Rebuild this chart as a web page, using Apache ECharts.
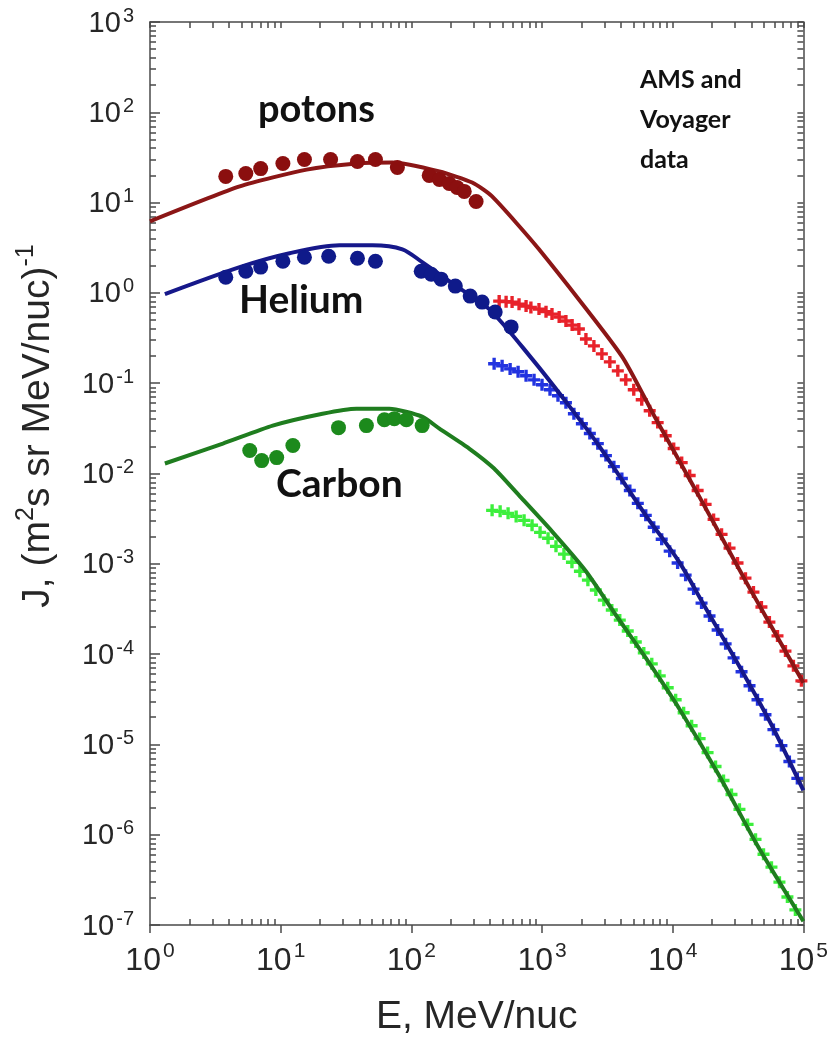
<!DOCTYPE html>
<html>
<head>
<meta charset="utf-8">
<script src="https://cdn.jsdelivr.net/npm/echarts@6/dist/echarts.min.js"></script>
<style>
html,body{margin:0;padding:0;background:#fff;}
#chart{width:831px;height:1042px;}
</style>
</head>
<body>
<div id="chart"></div>
<script>
// ---------- data (E in MeV/nuc, J in (m^2 s sr MeV/nuc)^-1) ----------
const protonModelE = [1.0, 4.86, 15.8, 38.0, 71.6, 164, 292, 415, 948, 4075, 7413, 15790, 38020, 100000];
const protonModelJ = [6.2, 15.1, 23.2, 27.1, 27.8, 22.1, 16.7, 11.7, 3.04, 0.200, 0.0405, 5.72e-3, 5.66e-4, 4.81e-5];

const heliumModelE = [1.30, 4.86, 11.7, 28.2, 50.4, 85.4, 121, 221, 394, 839, 1524, 2723, 6223, 11110, 17860, 31910, 57000, 100000];
const heliumModelJ = [0.97, 1.93, 2.75, 3.37, 3.37, 3.04, 2.19, 1.19, 0.662, 0.186, 0.0623, 0.0204, 3.44e-3, 1.07e-3, 3.24e-4, 7.6e-5, 1.65e-5, 3.09e-6];

const carbonModelE = [1.30, 3.61, 8.69, 20.9, 38.0, 67.9, 121, 164, 277, 430, 667, 1192, 2168, 3673, 6223, 11110, 22440, 45320, 100000];
const carbonModelJ = [0.0129, 0.0214, 0.0339, 0.0459, 0.0522, 0.0522, 0.0426, 0.0314, 0.0189, 0.01135, 5.72e-3, 2.29e-3, 8.28e-4, 2.71e-4, 9.08e-5, 2.55e-5, 4.64e-6, 7.26e-7, 1.1e-7];

// Voyager-type low-energy points (circles)
const protonDotE = [3.80, 5.41, 7.03, 10.4, 15.2, 24.1, 38.7, 53.1, 78.2, 137, 164, 195, 224, 254, 313];
const protonDotJ = [19.5, 21.0, 23.8, 27.1, 30.0, 30.0, 28.5, 30.0, 24.5, 20.0, 18.0, 16.3, 14.7, 13.3, 10.3];

const heliumDotE = [3.80, 5.41, 7.03, 10.4, 15.2, 23.3, 38.7, 53.1, 119, 142, 169, 217, 282, 348, 438, 580];
const heliumDotJ = [1.49, 1.74, 1.93, 2.24, 2.48, 2.55, 2.42, 2.24, 1.74, 1.61, 1.42, 1.19, 0.922, 0.791, 0.614, 0.42];

const carbonDotE = [5.80, 7.16, 9.32, 12.4, 27.7, 45.3, 62.2, 74.1, 91.6, 121];
const carbonDotJ = [0.0180, 0.0139, 0.0150, 0.0204, 0.0322, 0.0339, 0.0394, 0.0405, 0.0394, 0.0339];

// AMS-type high-energy points (crosses)
const protonAmsE = [470, 531, 590, 667, 755, 822, 948, 1073, 1192, 1353, 1524, 1700, 1915,
  2168, 2495, 2871, 3304, 3802, 4375, 5036, 5795, 6668, 7674, 8843, 10180, 11720, 13490, 15520,
  17860, 20560, 23660, 27230, 31340, 36060, 41500, 47760, 54960, 63390, 72940, 83950, 96600];
const protonAmsJ = [0.811, 0.80, 0.791, 0.75, 0.715, 0.69, 0.662, 0.62, 0.583, 0.54, 0.489, 0.44, 0.398,
  0.309, 0.259, 0.211, 0.172, 0.137, 0.109, 0.0846, 0.0656, 0.0496, 0.0366, 0.0262, 0.0189, 0.0132, 0.0095, 6.49e-3,
  4.55e-3, 3.1e-3, 2.12e-3, 1.49e-3, 1.02e-3, 6.93e-4, 4.86e-4, 3.32e-4, 2.26e-4, 1.59e-4, 1.08e-4, 7.41e-5, 5.06e-5];

const heliumAmsE = [430, 495, 570, 656, 755, 869, 1000, 1151, 1325, 1524, 1754, 2019, 2323, 2673, 3083, 3548,
  4083, 4699, 5408, 6223, 7161, 8241, 9484, 10910, 12560, 14450, 16630, 19140, 22080, 25410, 29240,
  33650, 38730, 44570, 51290, 59020, 67920, 78160, 89950];
const heliumAmsJ = [0.164, 0.156, 0.144, 0.134, 0.121, 0.109, 0.0960, 0.0846, 0.0726, 0.0608, 0.0459, 0.0356, 0.0277, 0.0214, 0.0158, 0.0119,
  8.81e-3, 6.49e-3, 4.67e-3, 3.44e-3, 2.54e-3, 1.87e-3, 1.38e-3, 1.02e-3, 7.48e-4, 5.25e-4, 3.67e-4, 2.64e-4, 1.85e-4, 1.30e-4, 9.08e-5,
  6.37e-5, 4.46e-5, 3.12e-5, 2.13e-5, 1.46e-5, 9.70e-6, 6.46e-6, 4.20e-6];

const carbonAmsE = [415, 478, 550, 634, 729, 839, 966, 1112, 1279, 1472, 1694, 1950, 2244, 2582, 2972, 3420,
  3936, 4530, 5220, 6010, 6918, 7962, 9162, 10540, 12130, 13960, 16070, 18490, 21280, 24490, 28180,
  32430, 37410, 43050, 49550, 57000, 65610, 75510, 86900];
const carbonAmsJ = [3.91e-3, 3.81e-3, 3.62e-3, 3.35e-3, 3.03e-3, 2.67e-3, 2.23e-3, 1.92e-3, 1.56e-3, 1.28e-3, 1.04e-3, 8.28e-4, 6.59e-4, 5.12e-4, 3.96e-4, 3.08e-4,
  2.38e-4, 1.80e-4, 1.36e-4, 1.03e-4, 7.80e-5, 5.74e-5, 4.24e-5, 3.12e-5, 2.24e-5, 1.61e-5, 1.16e-5, 8.11e-6, 5.69e-6, 3.98e-6, 2.79e-6,
  1.91e-6, 1.30e-6, 8.89e-7, 6.08e-7, 4.37e-7, 2.98e-7, 2.04e-7, 1.47e-7];

// axis ticks
const xMajorTicks = [1, 10, 100, 1000, 10000, 100000];
const yMajorTicks = [1e-7, 1e-6, 1e-5, 1e-4, 1e-3, 1e-2, 1e-1, 1, 10, 100, 1000];
const minorMultiples = [2, 3, 4, 5, 6, 7, 8, 9];

// ---------- helpers ----------
function pairs(xs, ys) { return xs.map((x, i) => [x, ys[i]]); }
function minorTicks(major) {
  const out = [];
  for (let i = 0; i < major.length - 1; i++) {
    minorMultiples.forEach(m => out.push(+(major[i] * m).toPrecision(6)));
  }
  return out;
}
const xMinorTicks = minorTicks(xMajorTicks);
const yMinorTicks = minorTicks(yMajorTicks);
const xAllTicks = xMajorTicks.concat(xMinorTicks);
const yAllTicks = yMajorTicks.concat(yMinorTicks);

const FONT = '"Liberation Sans", Arial, sans-serif';
const AXIS_COLOR = '#4a4a4a';
const LABEL_COLOR = '#262626';
const richTickY = {
  b: { fontSize: 29, fontFamily: FONT, color: LABEL_COLOR, lineHeight: 32, verticalAlign: 'bottom' },
  s: { fontSize: 20, fontFamily: FONT, color: LABEL_COLOR, lineHeight: 32, verticalAlign: 'top', padding: [0, 0, 0, 2] }
};
const richTickX = {
  b: { fontSize: 32, fontFamily: FONT, color: LABEL_COLOR, lineHeight: 36, verticalAlign: 'bottom' },
  s: { fontSize: 21, fontFamily: FONT, color: LABEL_COLOR, lineHeight: 36, verticalAlign: 'top', padding: [0, 0, 0, 2] }
};
function powLabel(v) {
  const e = Math.round(Math.log10(v));
  return '{b|10}{s|' + e + '}';
}
const PLUS = 'path://M3.6,0H6.4V3.6H10V6.4H6.4V10H3.6V6.4H0V3.6H3.6Z';

const chart = echarts.init(document.getElementById('chart'), null, { renderer: 'canvas' });

const xBase = { type: 'log', logBase: 10, min: 1, max: 100000, splitLine: { show: false } };
const yBase = { type: 'log', logBase: 10, min: 1e-7, max: 1000, splitLine: { show: false } };
const lineStyleAxis = { color: AXIS_COLOR, width: 1.5 };

const option = {
  animation: false,
  backgroundColor: '#ffffff',
  grid: { left: 150, right: 26, top: 22, bottom: 114, containLabel: false },
  xAxis: [
    Object.assign({}, xBase, {
      position: 'bottom',
      axisLine: { show: true, lineStyle: lineStyleAxis },
      axisTick: { show: true, inside: false, length: 8, customValues: xMajorTicks, lineStyle: lineStyleAxis },
      axisLabel: { show: true, customValues: xMajorTicks, formatter: powLabel, rich: richTickX, margin: 16 },
      name: 'E, MeV/nuc', nameLocation: 'middle', nameGap: 73,
      nameTextStyle: { fontSize: 39, fontFamily: FONT, color: LABEL_COLOR }
    }),
    Object.assign({}, xBase, {
      position: 'bottom',
      axisLine: { show: false },
      axisTick: { show: true, inside: true, length: 6, customValues: xMinorTicks, lineStyle: lineStyleAxis },
      axisLabel: { show: false }
    }),
    Object.assign({}, xBase, {
      position: 'top',
      axisLine: { show: true, lineStyle: lineStyleAxis },
      axisTick: { show: true, inside: true, length: 6, customValues: xAllTicks, lineStyle: lineStyleAxis },
      axisLabel: { show: false }
    })
  ],
  yAxis: [
    Object.assign({}, yBase, {
      position: 'left',
      axisLine: { show: true, lineStyle: lineStyleAxis },
      axisTick: { show: true, inside: true, length: 10, customValues: yMajorTicks, lineStyle: lineStyleAxis },
      axisLabel: { show: true, customValues: yMajorTicks, formatter: powLabel, rich: richTickY, margin: 16 }
    }),
    Object.assign({}, yBase, {
      position: 'left',
      axisLine: { show: false },
      axisTick: { show: true, inside: true, length: 6, customValues: yMinorTicks, lineStyle: lineStyleAxis },
      axisLabel: { show: false }
    }),
    Object.assign({}, yBase, {
      position: 'right',
      axisLine: { show: true, lineStyle: lineStyleAxis },
      axisTick: { show: true, inside: true, length: 6, customValues: yAllTicks, lineStyle: lineStyleAxis },
      axisLabel: { show: false }
    })
  ],
  series: [
    // AMS crosses
    { name: 'p AMS', type: 'scatter', data: pairs(protonAmsE, protonAmsJ), symbol: PLUS, symbolSize: 12,
      itemStyle: { color: '#e8222a', opacity: 1 }, z: 2 },
    { name: 'He AMS', type: 'scatter', data: pairs(heliumAmsE, heliumAmsJ), symbol: PLUS, symbolSize: 12,
      itemStyle: { color: '#2233e0', opacity: 1 }, z: 2 },
    { name: 'C AMS', type: 'scatter', data: pairs(carbonAmsE, carbonAmsJ), symbol: PLUS, symbolSize: 12,
      itemStyle: { color: '#3cef3c', opacity: 1 }, z: 2 },
    // model lines
    { name: 'p model', type: 'line', data: pairs(protonModelE, protonModelJ), showSymbol: false, smooth: 0.2,
      lineStyle: { color: '#8b1616', width: 4 }, z: 3 },
    { name: 'He model', type: 'line', data: pairs(heliumModelE, heliumModelJ), showSymbol: false, smooth: 0.3,
      lineStyle: { color: '#16188a', width: 4 }, z: 3 },
    { name: 'C model', type: 'line', data: pairs(carbonModelE, carbonModelJ), showSymbol: false, smooth: 0.2,
      lineStyle: { color: '#1f7d1f', width: 4 }, z: 3 },
    // Voyager-type dots
    { name: 'p dots', type: 'scatter', data: pairs(protonDotE, protonDotJ), symbol: 'circle', symbolSize: 15,
      itemStyle: { color: '#8b0f0f', opacity: 1 }, z: 4 },
    { name: 'He dots', type: 'scatter', data: pairs(heliumDotE, heliumDotJ), symbol: 'circle', symbolSize: 15,
      itemStyle: { color: '#0f1a8a', opacity: 1 }, z: 4 },
    { name: 'C dots', type: 'scatter', data: pairs(carbonDotE, carbonDotJ), symbol: 'circle', symbolSize: 15,
      itemStyle: { color: '#1c8a1c', opacity: 1 }, z: 4 }
  ],
  graphic: [
    { type: 'text', x: 36, y: 426, rotation: Math.PI / 2, z: 10,
      style: {
        text: '{n|J, (m}{s|2}{n|s sr MeV/nuc)}{s|-1}',
        align: 'center', verticalAlign: 'middle',
        rich: {
          n: { fontSize: 39, fontFamily: FONT, fill: LABEL_COLOR, lineHeight: 44, verticalAlign: 'bottom' },
          s: { fontSize: 25, fontFamily: FONT, fill: LABEL_COLOR, lineHeight: 44, verticalAlign: 'top' }
        }
      } },
    { type: 'text', left: 258, top: 91, style: { text: 'potons', font: 'bold 38px Lato, "Open Sans", sans-serif', fill: '#111' }, z: 10 },
    { type: 'text', left: 239, top: 281, style: { text: 'Helium', font: 'bold 39px Lato, "Open Sans", sans-serif', fill: '#111' }, z: 10 },
    { type: 'text', left: 276, top: 465, style: { text: 'Carbon', font: 'bold 39px Lato, "Open Sans", sans-serif', fill: '#111' }, z: 10 },
    { type: 'text', left: 640, top: 60, style: { text: 'AMS and\nVoyager\ndata', font: 'bold 25px Lato, "Open Sans", sans-serif', lineHeight: 40, fill: '#111' }, z: 10 }
  ]
};
chart.setOption(option);
</script>
</body>
</html>
